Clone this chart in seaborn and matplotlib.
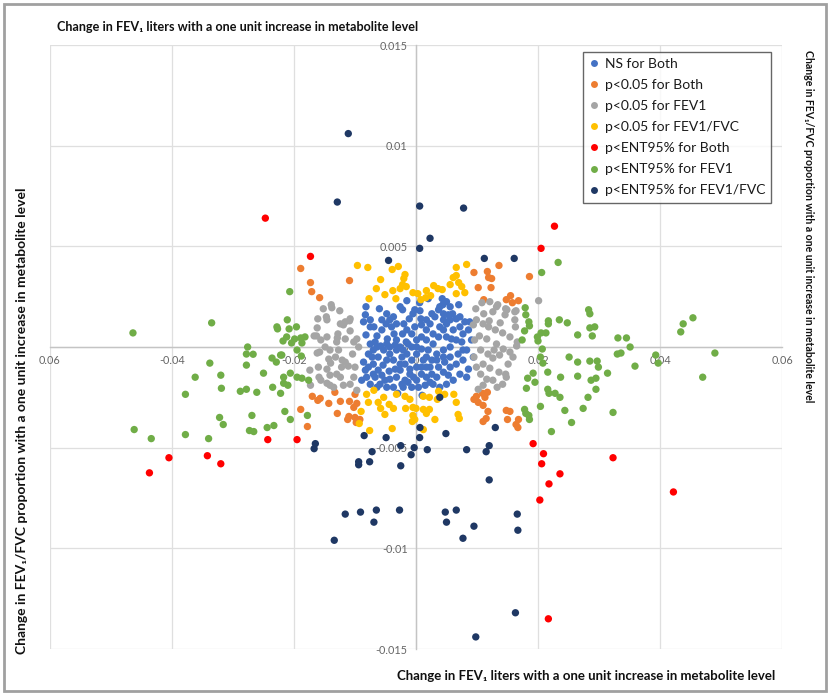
import numpy as np
import pandas as pd
import matplotlib
matplotlib.use("Agg")
import matplotlib.pyplot as plt
from matplotlib.lines import Line2D
from matplotlib.patches import Rectangle
import seaborn as sns

# ---------------- data (values in thousandths; divided by 1000 below) ----------------
# NS for Both
ns_x = [-8.2,-8.3,-7.5,-6.9,-8.2,-6.4,-5.6,-4.9,-4.3,-3.7,-2.6,-2.2,-0.5,-0.2,0.65,0.8,-1.1,-2.0,-2.2,-3.6,-4.7,-5.8,-7.0,-7.8,-8.6,-8.3,-8.1,-8.9,-7.5,-6.7,-6.2,-5.4,-4.8,-4.3,-3.2,-3.7,-4.4,-5.1,-5.9,-3.2,-2.6,-1.8,-1.5,-0.7,-1.6,0.1,0.9,1.7,2.3,3.1,3.7,4.4,5.0,5.6,6.0,6.6,7.2,8.8,8.6,7.7,6.6,5.6,4.5,3.4,2.6,1.7,0.9,0.1,-0.7,-2.1,-3.7,2.3,3.4,4.5,5.6,6.6,7.7,8.6,7.2,6.1,5.0,3.9,2.8,9.4,9.1,
        -7.0,-6.2,-5.3,-4.8,-3.2,-2.6,-2.3,-0.7,0.1,-1.0,-1.8,1.2,2.0,2.8,3.7,4.5,5.0,5.6,4.5,3.9,2.8,1.7,0.9,0.1,5.0,6.1,7.2,7.7,6.9,5.6,4.7,3.7,2.6,1.7,5.3,8.3,-5.6,-4.8,-4.0,-3.2,-1.5,-0.7,-0.2,0.9,1.7,2.6,4.5,3.9,5.3,-7.5,-6.7,-6.4,-7.2,-7.8,-7.0,-5.6,-6.4,-4.8,-4.3,-3.4,-2.6,-2.3,-1.3,-0.4,0.4,1.5,-1.0,0.9,-3.4,-4.3,-2.1,-1.3,0.1,1.7,3.4,4.5,2.3,5.8,7.5,8.3,8.0,-7.5,-8.6,
        0.6,-1.5,2.0,-6.0,7.0,-3.0,1.0,4.3]
ns_y = [2.0,1.6,1.0,1.0,0.6,0.55,0.85,1.15,1.35,1.5,2.0,1.85,1.65,1.85,1.8,1.4,1.4,1.15,0.65,0.65,0.4,0.05,-0.15,-0.35,-0.75,-1.15,-1.5,-1.65,-1.85,-1.5,-1.15,-0.9,-0.65,-0.35,-0.15,-0.65,-1.2,-1.65,-1.85,-1.5,-1.15,-0.85,-0.35,0.0,0.25,0.35,0.5,0.85,1.15,1.5,1.85,2.1,2.25,2.0,1.65,1.4,1.5,1.25,0.85,0.65,0.35,0.0,-0.15,-0.35,-0.65,-1.0,-1.35,-1.65,-2.0,-2.0,-2.0,-1.75,-1.5,-1.25,-1.0,-0.85,-0.65,-1.1,-1.35,-1.65,-1.85,-2.0,-1.85,-0.5,0.35,
        -0.85,-0.5,-0.15,0.15,0.35,0.0,-0.5,-0.65,-1.0,-1.35,-1.65,-0.65,-0.15,0.15,0.5,0.85,1.15,1.35,1.35,1.0,0.65,0.35,-0.1,-0.35,0.5,0.85,1.0,-0.15,-0.35,-0.5,-0.75,-1.0,-1.35,-1.5,-1.4,-1.5,1.35,1.65,1.0,1.15,0.85,0.65,1.0,1.1,1.35,1.65,1.65,2.0,1.6,0.15,0.25,0.0,-0.5,-1.0,-1.35,-1.4,-2.0,-2.0,-1.6,-1.1,-0.85,-1.85,-1.75,-1.5,-2.0,-1.9,-1.1,-1.0,0.1,0.0,-0.15,0.15,0.0,-0.5,-0.65,-0.5,-1.0,0.4,0.25,-0.15,1.25,1.35,1.25,
        2.2,2.3,2.4,1.9,2.1,-2.3,-2.4,2.4]

# p<0.05 for Both
both05_x = [-18.9,-17.3,-17.1,-15.8,-10.9,9.5,11.7,11.9,12.4,13.6,10.2,12.3,11.1,14.8,15.5,15.8,16.8,18.6,
            -17.0,-16.1,-15.7,-14.3,-13.3,-12.4,-12.9,-10.9,-10.0,-9.7,-10.2,-11.0,-10.0,-9.2,-9.8,-18.9,-17.8,-11.2,
            9.9,10.9,11.7,11.3,10.2,11.0,11.8,11.5,11.0,14.8,15.4,15.0,16.4,16.8,9.5,16.7]
both05_y = [3.9,3.2,2.75,2.45,3.3,3.7,3.75,3.45,3.4,4.05,2.95,2.95,2.35,2.35,2.55,2.2,2.3,3.5,
            -2.45,-2.65,-2.55,-2.8,-2.25,-2.7,-3.3,-2.7,-2.35,-2.8,-3.0,-3.45,-3.5,-3.6,-3.75,-3.1,-3.95,-3.6,
            -2.45,-2.3,-2.25,-2.5,-2.75,-2.9,-3.2,-3.55,-3.7,-3.15,-3.2,-3.6,-3.85,-3.6,-2.6,-4.0]

# p<0.05 for FEV1
fev05_x = [-13.9,-16.1,-14.6,-12.4,-11.6,-10.8,-12.8,-10.8,-9.7,-16.2,-16.7,-15.6,-14.6,-14.9,-14.1,-15.8,-14.3,-13.0,-12.7,-11.6,-11.6,-12.2,-11.1,-10.0,-10.4,-9.4,-17.4,-16.0,-14.6,-14.1,-13.0,-12.4,-11.9,-10.8,-17.3,-15.6,-14.1,-10.2,-13.8,-14.7,-11.9,-10.9,-16.3,-12.9,-10.2,-16.2,-14.0,-12.1,-15.9,-14.6,-13.5,-9.7,-12.5,-15.2,-13.2,
           10.8,12.1,9.8,11.1,12.6,13.2,14.7,16.4,14.6,16.2,9.9,11.0,11.9,13.0,14.2,15.4,16.6,10.4,11.6,13.2,14.3,15.4,10.6,11.8,12.6,13.7,15.1,11.0,12.1,13.6,14.7,10.6,11.6,12.6,14.2,11.0,10.2,20.1,13.4,14.9,16.2,9.4,16.3,9.6,16.5,15.9,9.9,14.8,13.3,12.0,13.8,12.8,9.5]
fev05_y = [2.1,1.4,1.35,1.15,1.25,1.4,0.65,0.8,0.4,0.95,0.55,0.35,0.5,0.0,-0.15,-0.25,-0.6,0.25,-0.15,0.4,-0.75,-1.0,-0.95,-1.0,-0.35,0.0,-1.15,-1.0,-1.1,-1.4,-1.35,-1.5,-1.9,-1.85,-1.9,-1.65,-1.9,-1.5,1.95,1.5,1.1,1.3,0.55,0.45,0.25,-0.3,-0.8,-0.65,-1.5,-1.8,-2.0,-2.15,1.8,1.9,-0.5,
           2.2,2.25,1.9,1.65,1.75,2.0,1.9,1.8,1.6,1.35,1.35,1.15,1.0,0.85,0.7,0.5,0.25,0.55,0.4,0.15,-0.1,-0.25,-0.15,-0.35,-0.55,-0.4,-0.85,-0.85,-1.05,-1.25,-1.35,-1.35,-1.6,-1.65,-1.85,-1.9,-2.1,2.3,2.1,1.85,1.75,1.1,1.0,0.35,0.05,-0.5,-1.0,-1.5,-2.0,1.3,1.2,-0.15,-0.5]

# p<0.05 for FEV1/FVC
ratio05_x = [-9.6,-7.9,-5.8,-3.9,-2.9,-2.0,-2.2,-2.6,-1.6,-3.8,-5.1,-3.3,-7.7,0.3,1.7,2.9,3.6,4.3,5.6,7.0,6.6,8.3,6.6,2.4,0.8,6.6,8.0,6.1,7.5,-1.8,-6.5,1.6,-0.5,
             -8.1,-6.9,-7.8,-6.2,-5.3,-5.8,-5.1,-3.7,-3.2,-1.8,-1.0,-1.7,-0.5,-0.5,0.0,1.2,2.2,1.2,2.2,3.1,3.7,4.7,6.2,6.6,6.9,-3.9,-7.6,-9.3,-9.0,7.1,1.2,-0.2,1.7,-0.6,3.5,-4.4]
ratio05_y = [4.05,3.95,3.35,3.85,4.0,3.4,3.1,2.9,3.0,2.8,2.6,2.4,2.4,2.65,2.8,3.05,2.9,2.85,3.1,3.2,3.95,4.1,3.55,2.55,2.35,2.65,2.7,3.45,3.0,3.6,2.9,2.45,2.7,
             -2.35,-2.15,-2.75,-2.75,-2.5,-3.05,-3.35,-3.05,-2.35,-2.45,-2.6,-3.05,-3.0,-3.4,-3.05,-2.45,-2.5,-3.1,-3.1,-3.6,-2.2,-2.35,-2.35,-2.75,-3.35,-4.05,-4.15,-3.8,-3.2,-3.55,-4.1,-3.6,-3.3,-3.7,-2.6,-2.85]

# p<ENT95% for Both
entboth_x = [-24.7,-17.3,22.7,20.5,-24.3,-19.5,19.2,20.9,20.6,23.6,21.8,20.3,21.7,-40.5,-34.2,-32.0,-43.7,32.3,42.2]
entboth_y = [6.4,4.5,6.0,4.9,-4.6,-4.6,-4.8,-5.3,-5.8,-6.3,-6.8,-7.6,-13.5,-5.5,-5.4,-5.8,-6.25,-5.5,-7.2]

# p<ENT95% for FEV1
entfev_x = [-46.4,-33.5,-22.7,-27.6,-27.8,-26.7,-33.8,-27.8,-23.6,-22.9,-22.2,-25.0,-32.0,-36.2,-31.9,-37.8,-28.8,-27.8,-26.1,-23.5,-22.2,-26.9,-32.2,-31.6,-27.3,-26.6,-24.4,-23.3,-46.2,-43.4,-37.8,-34.0,
            -20.7,-21.1,-20.8,-19.6,-21.2,-19.9,-18.9,-18.2,-20.4,-18.7,-22.0,-19.5,-18.8,-21.7,-20.6,-21.7,-21.0,-19.5,-18.7,-17.6,-21.5,-20.6,-17.8,-22.8,-21.8,
            23.3,20.6,28.3,28.5,23.5,24.8,21.7,20.5,21.3,26.5,28.9,28.5,29.3,20.0,18.6,33.1,34.5,35.1,20.7,33.0,33.6,39.3,39.7,43.4,43.8,45.4,49.0,47.0,35.9,20.4,20.8,25.1,26.5,28.5,29.7,29.9,21.6,19.2,19.5,23.7,26.5,28.7,29.5,31.4,29.5,21.8,22.8,23.6,28.2,20.4,24.4,27.4,32.3,25.5,22.2,18.6,
            17.9,18.0,18.5,17.8,17.4,19.9,21.7,18.3,18.1,18.0,17.8,18.5,21.6]
entfev_y = [0.7,1.2,0.9,0.0,-0.35,-0.36,-0.8,-0.9,-0.55,-0.75,-0.4,-1.3,-1.4,-1.5,-2.05,-2.35,-2.2,-2.1,-2.25,-2.0,-2.3,-3.4,-3.5,-3.85,-4.15,-4.2,-4.0,-3.9,-4.1,-4.55,-4.35,-4.55,
            2.75,1.35,0.9,1.0,0.5,0.4,0.45,0.5,0.2,0.2,-0.4,-0.15,-0.45,-1.5,-1.3,-1.8,-1.9,-1.5,-1.55,-1.65,-3.2,-3.6,-3.4,1.0,0.3,
            4.2,3.7,1.85,1.65,1.35,1.2,1.15,0.7,0.7,0.6,0.55,0.95,1.0,0.3,1.05,0.45,0.45,0.0,-0.1,-0.35,-0.3,-0.4,-0.8,0.75,1.15,1.45,-0.3,-1.5,-0.95,-0.5,-0.8,-0.5,-0.75,-0.7,-0.7,-1.0,-1.25,-1.3,-1.75,-1.5,-1.45,-1.65,-1.55,-1.3,-2.1,-2.3,-2.3,-2.5,-2.5,-2.95,-3.15,-3.05,-3.25,-3.75,-4.2,-3.6,
            1.95,1.6,1.25,0.8,0.35,0.5,1.3,-1.55,-2.05,-3.3,-3.1,-3.4,-2.1]

# p<ENT95% for FEV1/FVC
entratio_x = [-11.1,-12.9,0.6,7.8,2.3,0.6,-4.5,11.2,16.1,0.65,4.9,-8.5,-4.9,0.6,-16.5,-16.7,-7.2,-2.5,-0.3,1.85,-0.8,8.3,11.5,12.0,13.0,-9.4,-9.4,-7.6,-2.5,12.0,-11.6,-9.1,-6.5,-6.9,-2.7,4.8,6.6,5.0,9.5,16.6,16.7,-13.4,7.7,16.3,9.8,3.9]
entratio_y = [10.6,7.2,7.0,6.9,5.4,4.9,4.3,4.4,4.4,-4.0,-4.3,-4.4,-4.5,-4.5,-4.8,-5.05,-5.2,-4.9,-5.0,-5.1,-5.35,-5.1,-5.2,-4.9,-4.0,-5.7,-5.85,-5.7,-5.9,-6.6,-8.3,-8.2,-8.1,-8.7,-8.1,-8.2,-8.1,-8.7,-8.9,-8.3,-9.1,-9.6,-9.5,-13.2,-14.4,-2.5]

groups = ["NS for Both", "p<0.05 for Both", "p<0.05 for FEV1", "p<0.05 for FEV1/FVC",
          "p<ENT95% for Both", "p<ENT95% for FEV1", "p<ENT95% for FEV1/FVC"]
colors = ["#4472C4", "#ED7D31", "#A5A5A5", "#FFC000", "#FF0000", "#70AD47", "#1F3864"]

xticks = [-0.06, -0.04, -0.02, 0, 0.02, 0.04, 0.06]
xtick_labels = ["0.06", "-0.04", "-0.02", "0", "0.02", "0.04", "0.06"]
yticks = [-0.015, -0.01, -0.005, 0, 0.005, 0.01, 0.015]
ytick_labels = ["-0.015", "-0.01", "-0.005", "0", "0.005", "0.01", "0.015"]

title_x = "Change in FEV\u2081 liters with a one unit increase in metabolite level"
title_y = "Change in FEV\u2081/FVC proportion with a one unit increase in metabolite level"

# ---------------- build frame ----------------
series = [(ns_x, ns_y), (both05_x, both05_y), (fev05_x, fev05_y), (ratio05_x, ratio05_y),
          (entboth_x, entboth_y), (entfev_x, entfev_y), (entratio_x, entratio_y)]
frames = []
for g, (xs, ys) in zip(groups, series):
    frames.append(pd.DataFrame({"x": np.array(xs) / 1000.0, "y": np.array(ys) / 1000.0, "group": g}))
df = pd.concat(frames, ignore_index=True)

# ---------------- plot ----------------
sns.set_theme(style="white")
plt.rcParams["font.family"] = ["Lato", "DejaVu Sans"]

W, H = 830, 695
fig = plt.figure(figsize=(W / 100, H / 100), dpi=100)
ax = fig.add_axes([50 / W, (H - 649) / H, (782 - 50) / W, (649 - 45) / H])

sns.scatterplot(data=df, x="x", y="y", hue="group", hue_order=groups,
                palette=dict(zip(groups, colors)), s=28, linewidth=0, alpha=1,
                ax=ax, legend=False, zorder=3)

ax.set_xlim(-0.06, 0.06)
ax.set_ylim(-0.015, 0.015)
ax.set_xticks(xticks)
ax.set_xticklabels(xtick_labels)
ax.set_yticks(yticks)
ax.set_yticklabels(ytick_labels)
ax.set_xlabel("")
ax.set_ylabel("")

for sp in ["top", "right"]:
    ax.spines[sp].set_visible(False)
ax.spines["left"].set_position(("data", 0))
ax.spines["bottom"].set_position(("data", 0))
ax.spines["left"].set_color("#C4C4C4")
ax.spines["bottom"].set_color("#C4C4C4")
ax.spines["left"].set_linewidth(1.0)
ax.spines["bottom"].set_linewidth(1.0)

ax.grid(True, color="#DFDFDF", linewidth=0.9, zorder=0)
ax.set_axisbelow(True)
ax.tick_params(axis="both", length=0, labelsize=7.8, labelcolor="#666666", pad=6)
for lab in ax.get_xticklabels() + ax.get_yticklabels():
    lab.set_clip_on(False)

# legend
handles = [Line2D([], [], marker="o", linestyle="", color=c, markersize=5, markeredgewidth=0) for c in colors]
leg = ax.legend(handles, groups, loc="upper left", bbox_to_anchor=(583 / W, 1 - 52 / H),
                bbox_transform=fig.transFigure, frameon=True, fancybox=False,
                fontsize=10.0, handlelength=0.7, handletextpad=0.4, labelspacing=0.65,
                borderpad=0.45, borderaxespad=0)
leg.get_frame().set_edgecolor("#404040")
leg.get_frame().set_linewidth(1.0)
for t in leg.get_texts():
    t.set_color("#1A1A1A")

# axis titles
fig.text(57 / W, 1 - 27 / H, title_x, ha="left", va="center", fontsize=9.1, fontweight="bold", color="#111111")
fig.text(775 / W, 1 - 676 / H, title_x, ha="right", va="center", fontsize=9.5, fontweight="bold", color="#111111")
fig.text(22 / W, 1 - 421 / H, title_y, ha="center", va="center", rotation=90, fontsize=10.0, fontweight="bold", color="#111111")
fig.text(808 / W, 1 - 226 / H, title_y, ha="center", va="center", rotation=-90, fontsize=7.6, fontweight="bold", color="#111111")

# chart border
fig.patches.append(Rectangle((4 / W, 4 / H), (W - 8) / W, (H - 8) / H, transform=fig.transFigure,
                             fill=False, edgecolor="#A0A0A0", linewidth=2.0))

fig.savefig("out.png", dpi=100)
